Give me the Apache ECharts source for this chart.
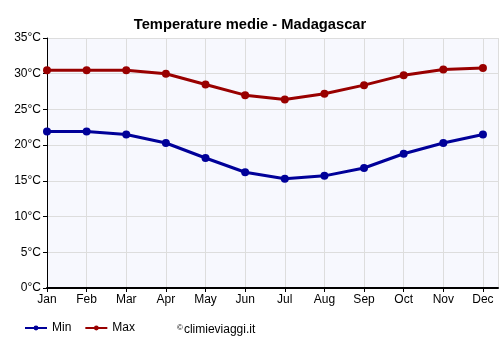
<!DOCTYPE html>
<html><head><meta charset="utf-8">
<script src="https://cdn.jsdelivr.net/npm/echarts@6/dist/echarts.min.js"></script>
<style>html,body{margin:0;padding:0;background:#fff}#c{width:500px;height:350px}</style>
</head><body><div id="c"></div>
<script>
const months = ['Jan','Feb','Mar','Apr','May','Jun','Jul','Aug','Sep','Oct','Nov','Dec'];
const minTemp = [21.9, 21.9, 21.5, 20.3, 18.2, 16.2, 15.3, 15.7, 16.8, 18.8, 20.3, 21.5];
const maxTemp = [30.5, 30.5, 30.5, 30.0, 28.5, 27.0, 26.4, 27.2, 28.4, 29.8, 30.6, 30.8];
const yTicks = [0, 5, 10, 15, 20, 25, 30, 35];

const F = 'Liberation Sans, Arial, sans-serif';
const chart = echarts.init(document.getElementById('c'), null, {renderer: 'canvas'});
chart.setOption({
  animation: false,
  backgroundColor: '#fff',
  title: [
    {text: 'Temperature medie - Madagascar', left: 'center', top: 12,
     textStyle: {fontFamily: F, fontSize: 14.7, fontWeight: 'bold', color: '#000'}},
    {text: '{s|©}climieviaggi.it', left: 172, top: 319,
     textStyle: {fontFamily: F, fontSize: 12, fontWeight: 'normal', color: '#000',
       rich: {s: {fontFamily: F, fontSize: 8, verticalAlign: 'top', padding: [0, 1, 4, 0], color: '#000'}}}}
  ],
  legend: {
    left: 24, top: 322, padding: 0, itemWidth: 22, itemHeight: 6, itemGap: 13,
    textStyle: {fontFamily: F, fontSize: 12, color: '#000'},
    data: ['Min', 'Max']
  },
  grid: {left: 47, right: 2, top: 38, bottom: 62, backgroundColor: '#f7f8fe', show: true, borderWidth: 0},
  xAxis: {
    type: 'value', min: 0, max: 11.38, interval: 1,
    axisLine: {show: true, onZero: false, lineStyle: {color: '#000', width: 2}},
    axisTick: {show: true, length: 4, lineStyle: {color: '#000'}},
    axisLabel: {fontFamily: F, fontSize: 12, color: '#000', margin: 6, showMaxLabel: false,
      formatter: v => months[v] !== undefined && Number.isInteger(v) ? months[v] : ''},
    splitLine: {show: true, lineStyle: {color: '#dddddd', width: 1}}
  },
  yAxis: {
    type: 'value', min: 0, max: 35, interval: 5,
    axisLine: {show: true, lineStyle: {color: '#000', width: 1}},
    axisTick: {show: true, length: 4, lineStyle: {color: '#000'}},
    axisLabel: {fontFamily: F, fontSize: 12, color: '#000', margin: 6,
      formatter: v => yTicks.includes(v) ? v + '°C' : ''},
    splitLine: {show: true, lineStyle: {color: '#dddddd', width: 1}}
  },
  series: [
    {name: 'Min', type: 'line', data: minTemp.map((v, i) => [i, v]), color: '#000099',
     symbol: 'circle', symbolSize: 8, lineStyle: {width: 3}},
    {name: 'Max', type: 'line', data: maxTemp.map((v, i) => [i, v]), color: '#990000',
     symbol: 'circle', symbolSize: 8, lineStyle: {width: 3}}
  ]
});
</script></body></html>
